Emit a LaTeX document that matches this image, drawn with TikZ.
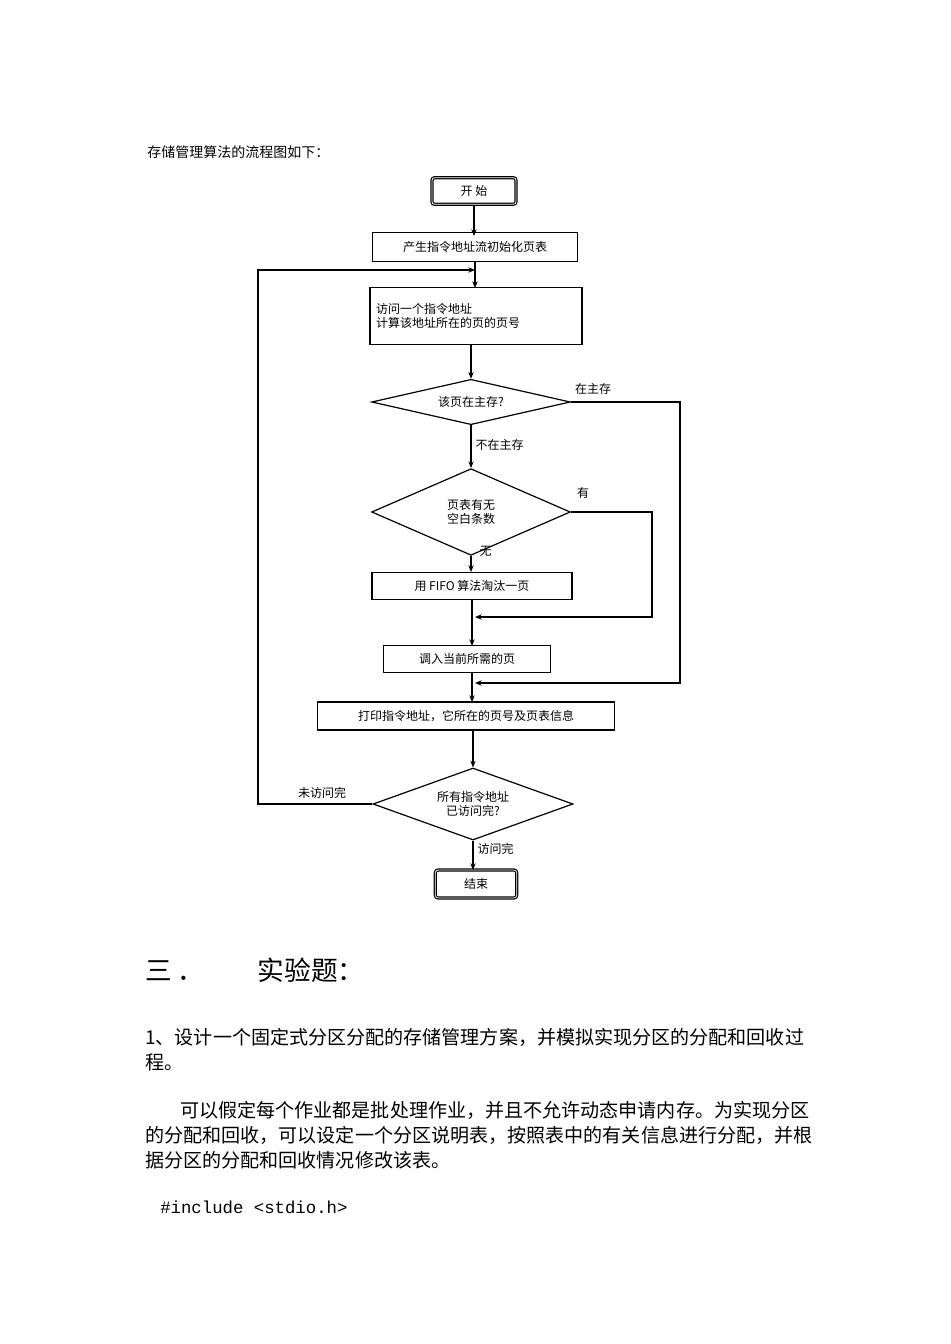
\documentclass[tikz,border=0pt]{standalone}
\usepackage{fontspec}
\setmainfont{Liberation Serif}
\newfontfamily\cjk{Noto Sans CJK SC}
\usetikzlibrary{shapes.geometric,arrows.meta}
\begin{document}
\begin{tikzpicture}[x=0.75pt,y=-0.75pt,
  box/.style={draw,line width=0.9pt,inner sep=0pt,font=\cjk\fontsize{9}{11}\selectfont},
  dia/.style={draw,line width=0.9pt,diamond,aspect=2.5,inner sep=0pt,font=\cjk\fontsize{9}{11}\selectfont,align=center},
  lab/.style={font=\cjk\fontsize{9}{11}\selectfont,inner sep=1pt},
  arr/.style={line width=0.8pt,-{Stealth[length=5pt,width=4pt]}},
  body/.style={anchor=west,inner sep=0pt,font=\cjk\fontsize{14.3}{16}\selectfont}]
\useasboundingbox (0,0) rectangle (950,1344);
\node[body,font=\cjk\fontsize{10.5}{12}\selectfont] (t0) at (147,152) {存储管理算法的流程图如下：};

\node[box,rounded corners=2pt,double,minimum width=63pt,minimum height=20pt] (s) at (474,191) {开\ 始};
\node[box,minimum width=154pt,minimum height=22pt] (b1) at (475,247) {产生指令地址流初始化页表};
\node[box,minimum width=159pt,minimum height=43pt,align=left,text width=150pt] (b2) at (476,316) {访问一个指令地址\\计算该地址所在的页的页号};
\node[dia,minimum width=149pt,minimum height=34pt] (d1) at (471,402) {该页在主存?};
\node[dia,minimum width=149pt,minimum height=65pt] (d2) at (471,512) {页表有无\\空白条数};
\node[box,minimum width=150pt,minimum height=20pt] (b3) at (472,586) {用 FIFO 算法淘汰一页};
\node[box,minimum width=125pt,minimum height=20pt] (b4) at (467,659) {调入当前所需的页};
\node[box,minimum width=223pt,minimum height=21pt] (b5) at (466,716) {打印指令地址，它所在的页号及页表信息};
\node[dia,minimum width=150pt,minimum height=54pt] (d3) at (473,804) {所有指令地址\\已访问完?};
\node[box,rounded corners=2pt,double,minimum width=61pt,minimum height=21pt] (e) at (476,884) {结束};

\coordinate (j1) at (475,683);
\coordinate (j2) at (475,617);
\coordinate (j3) at (475,270);

\draw[arr] (474,205) -- (474,236);
\draw[arr] (475,262) -- (475,288);
\draw[arr] (471,345) -- (d1.north);
\draw[arr] (d1.south) -- (d2.north);
\node[lab,anchor=west] (l4) at (474,445) {不在主存};
\draw[arr] (d2.south) -- (471,572);
\node[lab,anchor=west] (l5) at (478,551) {无};
\draw[arr] (472,599) -- (472,646);
\draw[arr] (472,672) -- (472,702);
\draw[arr] (473,730) -- (d3.north);
\draw[arr] (d3.south) -- (473,870);
\node[lab,anchor=west] (l6) at (476,849) {访问完};
\draw[arr] (d1.east) -- (680,402) -- (680,683) -- (j1);
\node[lab] (l1) at (593,389) {在主存};
\draw[arr] (d2.east) -- (652,512) -- (652,617) -- (j2);
\node[lab] (l2) at (583,493) {有};
\draw[arr] (d3.west) -- (258,804) -- (258,270) -- (j3);
\node[lab] (l3) at (322,793) {未访问完};

\node[body,font=\cjk\fontsize{20}{24}\selectfont] (h) at (145,970) {三\ ．\hspace{40pt}实验题：};
\node[body] (p1) at (145,1037) {1、设计一个固定式分区分配的存储管理方案，并模拟实现分区的分配和回收过};
\node[body] (p2) at (145,1062) {程。};
\node[body] (p3) at (180,1110) {可以假定每个作业都是批处理作业，并且不允许动态申请内存。为实现分区};
\node[body] (p4) at (145,1135) {的分配和回收，可以设定一个分区说明表，按照表中的有关信息进行分配，并根};
\node[body] (p5) at (145,1160) {据分区的分配和回收情况修改该表。};
\node[body,font=\fontspec{Liberation Mono}\fontsize{13}{15}\selectfont] (c) at (160,1207) {\#include <stdio.h>};
\end{tikzpicture}
\end{document}
